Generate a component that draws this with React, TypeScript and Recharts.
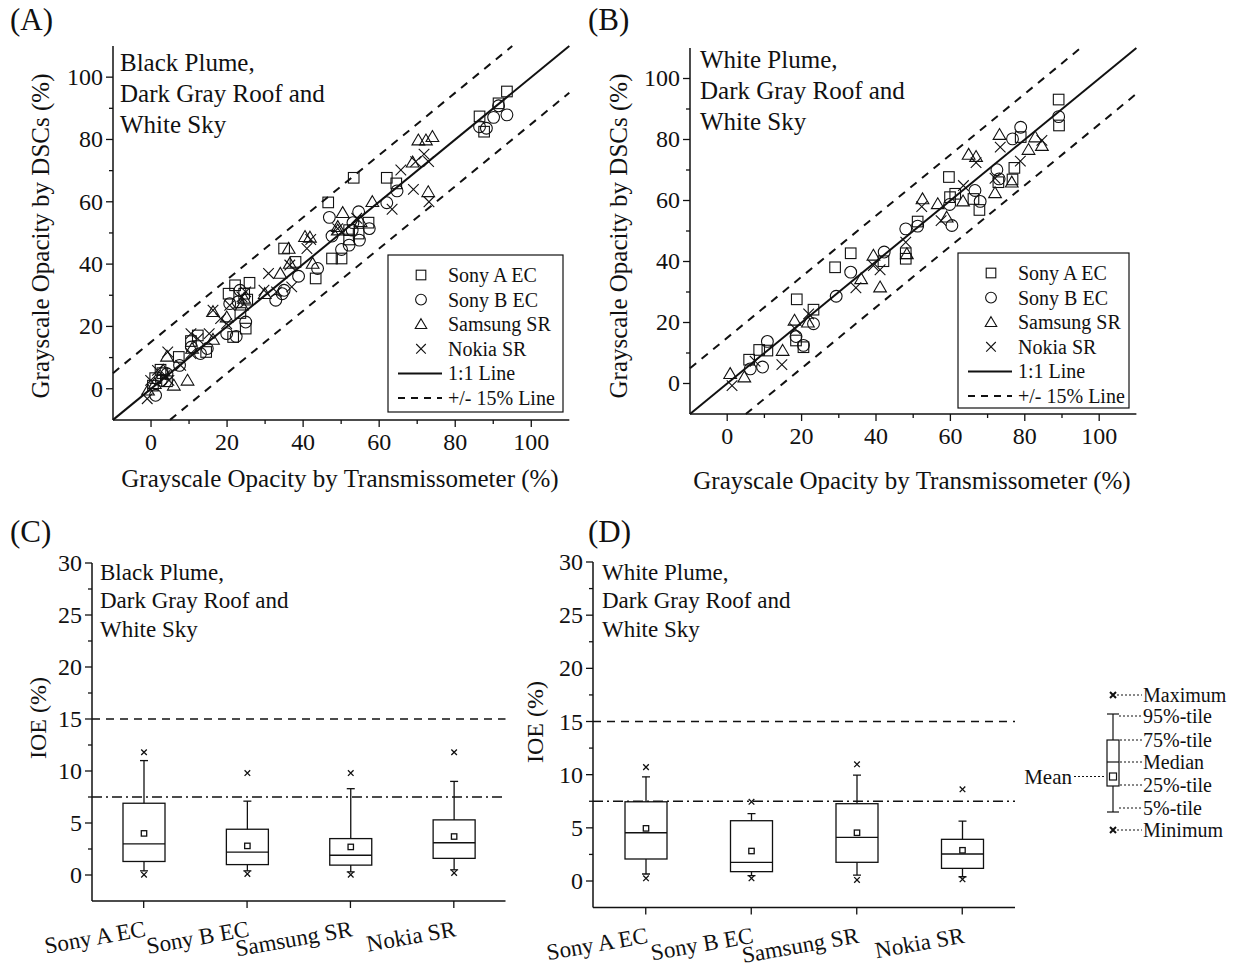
import {
  Bar,
  ComposedChart,
  ReferenceLine,
  Scatter,
  ScatterChart,
  XAxis,
  YAxis,
} from "recharts";

const FONT = '"Liberation Serif", "Times New Roman", serif';
const INK = "#111";

type Pt = [number, number];

// (A) black plume: [transmissometer %, DSC %]
const blackSonyA: Pt[] = [
  [0.5, 1], [1.1, 3.4], [2.5, 6.1], [4.2, 2.4], [3, 5], [7.3, 10.2], [10.5, 15.3],
  [12.3, 17.1], [14.5, 11.8], [20.4, 30.5], [22.1, 33.2], [25.9, 34], [24.5, 30.5],
  [21.6, 16.6], [24.9, 19.3], [23.5, 24.3], [25.3, 28.6], [35, 45], [38, 40.7],
  [43.3, 35.4], [47.6, 41.8], [50.1, 41.8], [46.6, 59.8], [53.3, 67.7], [62, 67.7],
  [64.5, 65.9], [57.2, 53.3], [52.1, 50.9], [54.6, 49.8], [52.1, 47.9], [86.4, 87.4],
  [87.6, 82.5], [91.4, 91.6], [93.6, 95.4],
];
const blackSonyB: Pt[] = [
  [1.2, -2.1], [2.7, 2.7], [4.2, 4.8], [7.5, 7.5], [10.6, 13.4], [13, 11.3], [14.8, 12.9],
  [19.9, 17.7], [22.4, 16.8], [20.7, 27.3], [22.9, 27.9], [23.4, 31.6], [24.9, 21.4],
  [32.8, 28.4], [34.5, 30.5], [35, 31.6], [38.8, 36.1], [43.8, 38.6], [46.9, 55],
  [47.6, 49], [50.1, 44.7], [52.1, 46.1], [53.1, 53.3], [54.6, 56.8], [57.4, 51.4],
  [54.8, 47.7], [52.9, 50.9], [62, 59.7], [64.7, 63.5], [86.4, 84.1], [88.2, 83.6],
  [90.1, 87.1], [91.4, 90.8], [93.6, 87.9],
];
const blackSamsung: Pt[] = [
  [-0.8, -0.5], [1, 1.6], [3.2, 5.9], [4.2, 10.4], [6, 1.1], [9.6, 2.7], [10.8, 12.9],
  [16.3, 15.8], [16.3, 24.7], [19.9, 23], [23.9, 26.8], [24.5, 29], [29.9, 30.5], [34, 37],
  [36.2, 45], [36.5, 40.2], [40.5, 48.8], [41.8, 48.6], [42.5, 40.2], [49.1, 52],
  [49.1, 50.9], [50.4, 56.5], [55.1, 53.6], [58.2, 60], [68.8, 72.7], [70.3, 79.8],
  [72.3, 79.8], [74, 80.9], [72.9, 63.2],
];
const blackNokia: Pt[] = [
  [-1, -3.2], [-0.1, 2.7], [1.7, 5.9], [3.7, 4.3], [4.4, 11.8], [4.7, 2.7], [7.8, 7.5],
  [10.5, 17.7], [10.5, 11.3], [12.3, 16.1], [15.3, 17.7], [16.3, 25.2], [18.3, 22.5],
  [19.9, 20.9], [20.7, 26.8], [23.9, 29.5], [24.9, 31.1], [29.7, 31.6], [30.9, 37],
  [33, 31.1], [36.5, 39.7], [37, 32.7], [41, 45], [42, 47.9], [49.1, 51.4], [54.1, 54.7],
  [63.4, 57.6], [65.7, 70.2], [69, 64], [69.6, 72.9], [71.8, 75.3], [73, 72.9], [73.1, 60],
];

// (B) white plume
const whiteSonyA: Pt[] = [
  [5.9, 7.8], [8.6, 11], [10.8, 10.8], [18.5, 14.1], [20.5, 11.9], [18.7, 27.6],
  [23.2, 24.2], [29, 38.1], [33.2, 42.7], [42, 40.1], [48, 42.7], [48, 40.9], [51.2, 53.1],
  [59.6, 67.7], [59.9, 61.1], [61.3, 62.2], [66.2, 60.5], [67.8, 56.9], [72.9, 66],
  [76.7, 66.9], [77.2, 70.7], [78.9, 80.8], [89.1, 93.1], [89.2, 84.6],
];
const whiteSonyB: Pt[] = [
  [6.2, 4.8], [9.5, 5.4], [10.8, 13.8], [18.5, 15.4], [20.5, 12.5], [23.2, 19.6],
  [29.3, 28.6], [33.2, 36.5], [42.2, 43.1], [48, 50.7], [51.2, 51.6], [59.8, 58.7],
  [60.4, 51.8], [66.6, 63.3], [68, 59.7], [72.5, 70.1], [73.1, 67.1], [76.7, 80.2],
  [78.9, 84], [89.1, 87.5],
];
const whiteSamsung: Pt[] = [
  [0.8, 3.2], [4.6, 2.1], [14.9, 10.8], [18.1, 20.7], [21.7, 20.1], [36, 34.3], [39.3, 42],
  [41.1, 31.6], [48.3, 42.5], [52.5, 60.5], [56.6, 58.9], [59, 54.5], [63.4, 59.8],
  [64.9, 75.1], [66.9, 74.4], [72, 62.5], [73.2, 81.6], [76.5, 66], [81, 76.7], [82.8, 80.8],
  [84.6, 78],
];
const whiteNokia: Pt[] = [
  [1.3, -0.7], [7.5, 7.3], [14.7, 6.2], [18.3, 17.9], [21.9, 22.8], [34.6, 31.4],
  [39.3, 38.7], [41.1, 37.3], [48, 46.3], [52.3, 58], [57.5, 53.4], [63.5, 64.9],
  [66.9, 72.4], [72, 67.3], [73.4, 77.5], [78.8, 72.9], [84.6, 79.7],
];

const cameras = ["Sony A EC", "Sony B EC", "Samsung SR", "Nokia SR"];

// (C) IOE statistics, one value per camera
const blackMin = [0.03, 0.1, 0.03, 0.2];
const blackP5 = [0.4, 0.4, 0.3, 0.5];
const blackQ1 = [1.3, 1.0, 0.95, 1.6];
const blackMedian = [3.0, 2.2, 1.9, 3.1];
const blackQ3 = [6.9, 4.4, 3.5, 5.3];
const blackP95 = [11.0, 7.1, 8.3, 9.0];
const blackMax = [11.8, 9.8, 9.8, 11.8];
const blackMean = [4.0, 2.8, 2.7, 3.7];

// (D)
const whiteMin = [0.25, 0.25, 0.1, 0.16];
const whiteP5 = [0.66, 0.5, 0.56, 0.4];
const whiteQ1 = [2.07, 0.88, 1.76, 1.19];
const whiteMedian = [4.54, 1.76, 4.1, 2.54];
const whiteQ3 = [7.45, 5.67, 7.27, 3.92];
const whiteP95 = [9.8, 6.33, 9.96, 5.64];
const whiteMax = [10.71, 7.45, 10.97, 8.62];
const whiteMean = [4.95, 2.82, 4.54, 2.89];

const opacityTicks = [0, 10, 20, 30, 40, 50, 60, 70, 80, 90, 100];
const opacityMajor = [0, 20, 40, 60, 80, 100];
const opacityDomain: [number, number] = [-10, 110];
const bandOffset = 15;

const ioeTicks = [0, 2.5, 5, 7.5, 10, 12.5, 15, 17.5, 20, 22.5, 25, 27.5, 30];
const ioeMajor = [0, 5, 10, 15, 20, 25, 30];
const ioeDomain: [number, number] = [-2.5, 30];
const ioeLimit = 15;
const ioeTarget = 7.5;

type Kind = "square" | "circle" | "triangle" | "cross";

const seriesNames = ["Sony A EC", "Sony B EC", "Samsung SR", "Nokia SR"];
const seriesKinds: Kind[] = ["square", "circle", "triangle", "cross"];

function Marker({ kind, cx, cy, r = 5.3 }: { kind: Kind; cx: number; cy: number; r?: number }) {
  const s = { fill: "none", stroke: INK, strokeWidth: 1.1 };
  if (kind === "square") return <rect x={cx - r} y={cy - r} width={2 * r} height={2 * r} {...s} />;
  if (kind === "circle") return <circle cx={cx} cy={cy} r={r + 0.6} {...s} />;
  if (kind === "triangle")
    return (
      <path
        d={`M${cx},${cy - r * 1.15}L${cx + r * 1.2},${cy + r * 0.9}L${cx - r * 1.2},${cy + r * 0.9}Z`}
        {...s}
      />
    );
  return (
    <path d={`M${cx - r},${cy - r}L${cx + r},${cy + r}M${cx + r},${cy - r}L${cx - r},${cy + r}`} {...s} />
  );
}

const toXY = (pts: Pt[]) => pts.map(([x, y]) => ({ x, y }));

// ticks drawn by hand so majors and minors get different lengths
const bottomTick = (majors: number[], fontSize: number) => (p: any) => {
  const v = p.payload.value;
  const major = majors.includes(v);
  return (
    <g>
      <line x1={p.x} y1={p.y} x2={p.x} y2={p.y + (major ? 7 : 4)} stroke={INK} strokeWidth={1.3} />
      {major && (
        <text x={p.x} y={p.y + 30} textAnchor="middle" fontFamily={FONT} fontSize={fontSize} fill={INK}>
          {v}
        </text>
      )}
    </g>
  );
};

const leftTick = (majors: number[], fontSize: number) => (p: any) => {
  const v = p.payload.value;
  const major = majors.includes(v);
  return (
    <g>
      <line x1={p.x} y1={p.y} x2={p.x - (major ? 7 : 4)} y2={p.y} stroke={INK} strokeWidth={1.3} />
      {major && (
        <text
          x={p.x - 10}
          y={p.y}
          textAnchor="end"
          dominantBaseline="central"
          fontFamily={FONT}
          fontSize={fontSize}
          fill={INK}
        >
          {v}
        </text>
      )}
    </g>
  );
};

const categoryTick = (p: any) => (
  <g>
    <line x1={p.x} y1={p.y} x2={p.x} y2={p.y + 7} stroke={INK} strokeWidth={1.3} />
    <text
      x={p.x + 3}
      y={p.y + 35}
      textAnchor="end"
      transform={`rotate(-10 ${p.x + 3} ${p.y + 35})`}
      fontFamily={FONT}
      fontSize={23}
      fill={INK}
    >
      {p.payload.value}
    </text>
  </g>
);

type Plot = { l: number; t: number; r: number; b: number };

// place a chart so that its plotting area lands on the given page rectangle
function frame(plot: Plot, axisH: number) {
  return {
    style: { position: "absolute" as const, left: plot.l - 70, top: plot.t - 20 },
    width: plot.r - plot.l + 80,
    height: plot.b - plot.t + 30 + axisH,
    margin: { top: 20, right: 10, bottom: 10, left: 10 },
  };
}

function OpacityPanel({ plot, series }: { plot: Plot; series: Pt[][] }) {
  const f = frame(plot, 40);
  const [lo, hi] = opacityDomain;
  const lines = [0, bandOffset, -bandOffset];
  return (
    <div style={f.style}>
      <ScatterChart width={f.width} height={f.height} margin={f.margin}>
        <XAxis
          type="number"
          dataKey="x"
          domain={opacityDomain}
          ticks={opacityTicks}
          interval={0}
          allowDataOverflow
          height={40}
          tickSize={0}
          tickMargin={0}
          tickLine={false}
          axisLine={{ stroke: INK, strokeWidth: 1.5 }}
          tick={bottomTick(opacityMajor, 24)}
        />
        <YAxis
          type="number"
          dataKey="y"
          domain={opacityDomain}
          ticks={opacityTicks}
          interval={0}
          allowDataOverflow
          width={60}
          tickSize={0}
          tickMargin={0}
          tickLine={false}
          axisLine={{ stroke: INK, strokeWidth: 1.5 }}
          tick={leftTick(opacityMajor, 24)}
        />
        {lines.map((off) => (
          <ReferenceLine
            key={off}
            segment={[
              { x: Math.max(lo, lo - off), y: Math.max(lo, lo - off) + off },
              { x: Math.min(hi, hi - off), y: Math.min(hi, hi - off) + off },
            ]}
            stroke={INK}
            strokeWidth={2}
            strokeDasharray={off === 0 ? undefined : "8 7"}
            ifOverflow="visible"
          />
        ))}
        {series.map((pts, i) => (
          <Scatter
            key={seriesNames[i]}
            name={seriesNames[i]}
            data={toXY(pts)}
            isAnimationActive={false}
            shape={(p: any) => <Marker kind={seriesKinds[i]} cx={p.cx} cy={p.cy} />}
          />
        ))}
      </ScatterChart>
    </div>
  );
}

type BoxRow = {
  name: string;
  min: number;
  p5: number;
  q1: number;
  median: number;
  q3: number;
  p95: number;
  max: number;
  mean: number;
};

const boxRows = (
  min: number[], p5: number[], q1: number[], median: number[],
  q3: number[], p95: number[], max: number[], mean: number[],
): BoxRow[] =>
  cameras.map((name, i) => ({
    name,
    min: min[i],
    p5: p5[i],
    q1: q1[i],
    median: median[i],
    q3: q3[i],
    p95: p95[i],
    max: max[i],
    mean: mean[i],
  }));

const blackRows = boxRows(blackMin, blackP5, blackQ1, blackMedian, blackQ3, blackP95, blackMax, blackMean);
const whiteRows = boxRows(whiteMin, whiteP5, whiteQ1, whiteMedian, whiteQ3, whiteP95, whiteMax, whiteMean);

// the bar spans min..max; every other statistic is placed on the same linear scale
function BoxShape(props: any) {
  const { x, y, width, height, payload } = props;
  const d = payload as BoxRow;
  const top = Math.min(y, y + height);
  const span = Math.abs(height);
  const at = (v: number) => top + ((d.max - v) / (d.max - d.min)) * span;
  const cx = x + width / 2;
  const s = { stroke: INK, strokeWidth: 1.3, fill: "none" };
  const xm = (cy: number) => (
    <path d={`M${cx - 2.8},${cy - 2.8}L${cx + 2.8},${cy + 2.8}M${cx + 2.8},${cy - 2.8}L${cx - 2.8},${cy + 2.8}`} {...s} />
  );
  return (
    <g>
      <line x1={cx} y1={at(d.p95)} x2={cx} y2={at(d.q3)} {...s} />
      <line x1={cx} y1={at(d.q1)} x2={cx} y2={at(d.p5)} {...s} />
      <line x1={cx - 4} y1={at(d.p95)} x2={cx + 4} y2={at(d.p95)} {...s} />
      <line x1={cx - 4} y1={at(d.p5)} x2={cx + 4} y2={at(d.p5)} {...s} />
      <rect x={x} y={at(d.q3)} width={width} height={at(d.q1) - at(d.q3)} {...s} />
      <line x1={x} y1={at(d.median)} x2={x + width} y2={at(d.median)} {...s} />
      <rect x={cx - 2.7} y={at(d.mean) - 2.7} width={5.4} height={5.4} {...s} />
      {xm(at(d.max))}
      {xm(at(d.min))}
    </g>
  );
}

function IoePanel({ plot, rows }: { plot: Plot; rows: BoxRow[] }) {
  const f = frame(plot, 70);
  return (
    <div style={f.style}>
      <ComposedChart width={f.width} height={f.height} margin={f.margin} data={rows}>
        <XAxis
          type="category"
          dataKey="name"
          interval={0}
          height={70}
          tickSize={0}
          tickMargin={0}
          tickLine={false}
          axisLine={{ stroke: INK, strokeWidth: 1.5 }}
          tick={categoryTick}
        />
        <YAxis
          type="number"
          domain={ioeDomain}
          ticks={ioeTicks}
          interval={0}
          allowDataOverflow
          width={60}
          tickSize={0}
          tickMargin={0}
          tickLine={false}
          axisLine={{ stroke: INK, strokeWidth: 1.5 }}
          tick={leftTick(ioeMajor, 24)}
        />
        <ReferenceLine y={ioeLimit} stroke={INK} strokeWidth={1.6} strokeDasharray="8 6" />
        <ReferenceLine y={ioeTarget} stroke={INK} strokeWidth={1.6} strokeDasharray="10 4 2 4" />
        <Bar
          dataKey={(d: BoxRow) => [d.min, d.max]}
          barSize={42}
          shape={BoxShape}
          isAnimationActive={false}
        />
      </ComposedChart>
    </div>
  );
}

const txt = { fontFamily: FONT, fill: INK };

function Caption({ x, y, lines, size, gap }: { x: number; y: number; lines: string[]; size: number; gap: number }) {
  return (
    <g>
      {lines.map((s, i) => (
        <text key={s} x={x} y={y + i * gap} dominantBaseline="central" fontSize={size} {...txt}>
          {s}
        </text>
      ))}
    </g>
  );
}

function ScatterLegend({ x, y, w, h }: { x: number; y: number; w: number; h: number }) {
  const row = 24.6;
  const sym = x + 33;
  const label = x + 60;
  return (
    <g>
      <rect x={x} y={y} width={w} height={h} fill="#fff" stroke={INK} strokeWidth={1.2} />
      {seriesKinds.map((k, i) => (
        <g key={k}>
          <Marker kind={k} cx={sym} cy={y + 20 + i * row} r={4.8} />
          <text x={label} y={y + 20 + i * row} dominantBaseline="central" fontSize={20} {...txt}>
            {seriesNames[i]}
          </text>
        </g>
      ))}
      <line x1={sym - 23} x2={sym + 21} y1={y + 20 + 4 * row} y2={y + 20 + 4 * row} stroke={INK} strokeWidth={2} />
      <text x={label} y={y + 20 + 4 * row} dominantBaseline="central" fontSize={20} {...txt}>
        1:1 Line
      </text>
      <line
        x1={sym - 23}
        x2={sym + 21}
        y1={y + 20 + 5 * row}
        y2={y + 20 + 5 * row}
        stroke={INK}
        strokeWidth={2}
        strokeDasharray="7 6"
      />
      <text x={label} y={y + 20 + 5 * row} dominantBaseline="central" fontSize={20} {...txt}>
        +/- 15% Line
      </text>
    </g>
  );
}

function BoxKey() {
  const cx = 1113;
  const tx = 1143;
  const s = { stroke: INK, strokeWidth: 1.2, fill: "none" };
  const dot = { stroke: INK, strokeWidth: 1, strokeDasharray: "2 2" };
  const xm = (cy: number) => (
    <path d={`M${cx - 3},${cy - 3}L${cx + 3},${cy + 3}M${cx + 3},${cy - 3}L${cx - 3},${cy + 3}`} stroke={INK} strokeWidth={2} />
  );
  const labels: [string, number, number][] = [
    ["Maximum", 695, cx + 4],
    ["95%-tile", 716, cx + 6],
    ["75%-tile", 740, cx + 7],
    ["Median", 762, cx + 7],
    ["25%-tile", 785, cx + 7],
    ["5%-tile", 808, cx + 6],
    ["Minimum", 830, cx + 4],
  ];
  return (
    <g>
      <line x1={cx} y1={714} x2={cx} y2={740} {...s} />
      <line x1={cx} y1={786} x2={cx} y2={812} {...s} />
      <line x1={cx - 6} y1={714} x2={cx + 6} y2={714} {...s} />
      <line x1={cx - 6} y1={812} x2={cx + 6} y2={812} {...s} />
      <rect x={cx - 6} y={740} width={12} height={46} {...s} />
      <line x1={cx - 6} y1={762} x2={cx + 6} y2={762} {...s} />
      <rect x={cx - 3.5} y={773} width={7} height={7} {...s} />
      {xm(695)}
      {xm(830)}
      {labels.map(([t, y, from]) => (
        <g key={t}>
          <line x1={from} y1={y} x2={tx - 1} y2={y} {...dot} />
          <text x={tx} y={y} dominantBaseline="central" fontSize={20} {...txt}>
            {t}
          </text>
        </g>
      ))}
      <line x1={1074} y1={776.5} x2={cx - 7} y2={776.5} {...dot} />
      <text x={1072} y={776.5} textAnchor="end" dominantBaseline="central" fontSize={21} {...txt}>
        Mean
      </text>
    </g>
  );
}

const plotA: Plot = { l: 112.7, t: 46.3, r: 569, b: 420.2 };
const plotB: Plot = { l: 689.8, t: 47.5, r: 1136.2, b: 413.5 };
const plotC: Plot = { l: 91.5, t: 563, r: 505, b: 901 };
const plotD: Plot = { l: 593, t: 562, r: 1015, b: 907.6 };

export default function App() {
  return (
    <div style={{ position: "absolute", left: 0, top: 0, width: 1248, height: 967, background: "#fff" }}>
      <OpacityPanel plot={plotA} series={[blackSonyA, blackSonyB, blackSamsung, blackNokia]} />
      <OpacityPanel plot={plotB} series={[whiteSonyA, whiteSonyB, whiteSamsung, whiteNokia]} />
      <IoePanel plot={plotC} rows={blackRows} />
      <IoePanel plot={plotD} rows={whiteRows} />
      <svg
        width={1248}
        height={967}
        style={{ position: "absolute", left: 0, top: 0, pointerEvents: "none" }}
      >
        <text x={10} y={19} dominantBaseline="central" fontSize={31} {...txt}>(A)</text>
        <text x={588} y={19} dominantBaseline="central" fontSize={31} {...txt}>(B)</text>
        <text x={10} y={531} dominantBaseline="central" fontSize={31} {...txt}>(C)</text>
        <text x={588} y={531} dominantBaseline="central" fontSize={31} {...txt}>(D)</text>

        <Caption x={120} y={62} lines={["Black Plume,", "Dark Gray Roof and", "White Sky"]} size={25} gap={31} />
        <Caption x={700} y={59} lines={["White Plume,", "Dark Gray Roof and", "White Sky"]} size={25} gap={31} />
        <Caption x={100} y={572} lines={["Black Plume,", "Dark Gray Roof and", "White Sky"]} size={23} gap={28.5} />
        <Caption x={602} y={572} lines={["White Plume,", "Dark Gray Roof and", "White Sky"]} size={23} gap={28.5} />

        <ScatterLegend x={388} y={255} w={175} h={157} />
        <ScatterLegend x={958} y={253} w={171} h={155} />

        <text x={340} y={478} textAnchor="middle" dominantBaseline="central" fontSize={25} {...txt}>
          Grayscale Opacity by Transmissometer (%)
        </text>
        <text x={912} y={480} textAnchor="middle" dominantBaseline="central" fontSize={25} {...txt}>
          Grayscale Opacity by Transmissometer (%)
        </text>
        <text transform="translate(40 236) rotate(-90)" textAnchor="middle" dominantBaseline="central" fontSize={25} {...txt}>
          Grayscale Opacity by DSCs (%)
        </text>
        <text transform="translate(618 236) rotate(-90)" textAnchor="middle" dominantBaseline="central" fontSize={25} {...txt}>
          Grayscale Opacity by DSCs (%)
        </text>
        <text transform="translate(38 718) rotate(-90)" textAnchor="middle" dominantBaseline="central" fontSize={24} {...txt}>
          IOE (%)
        </text>
        <text transform="translate(535 722) rotate(-90)" textAnchor="middle" dominantBaseline="central" fontSize={24} {...txt}>
          IOE (%)
        </text>

        <BoxKey />
      </svg>
    </div>
  );
}
